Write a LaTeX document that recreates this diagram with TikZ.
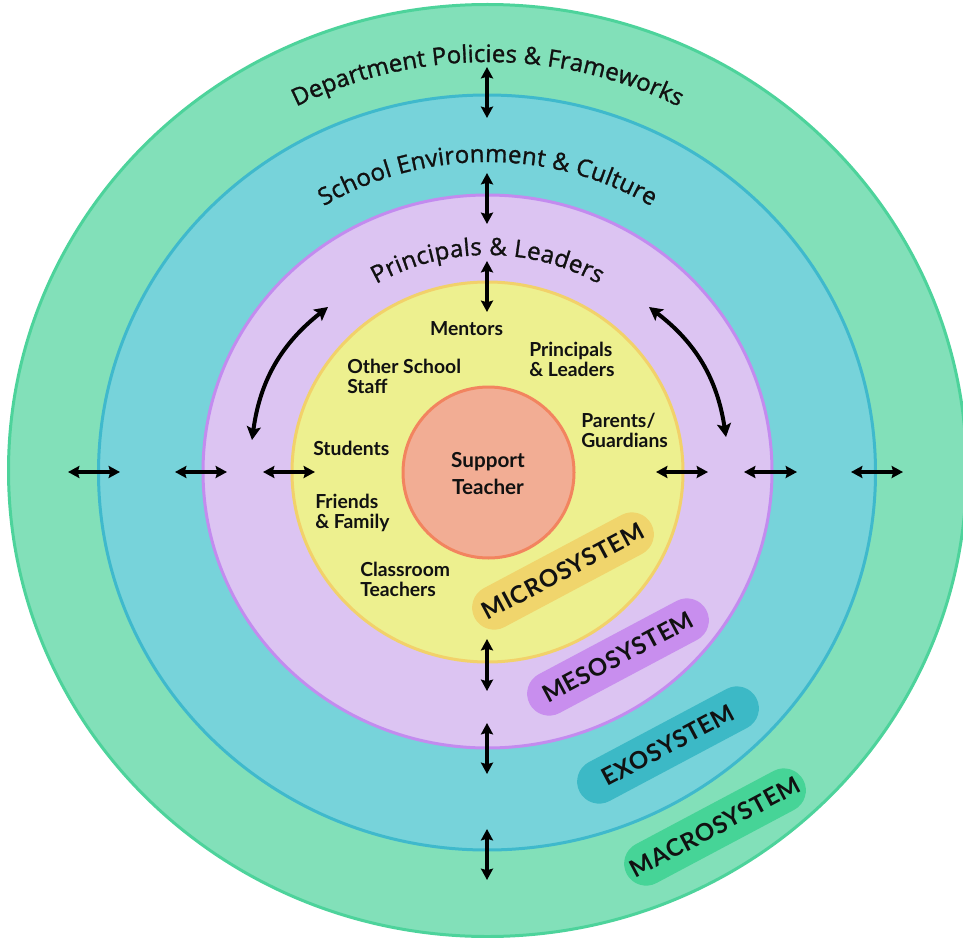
\documentclass[tikz,border=0pt]{standalone}
\usepackage{fontspec}
\setmainfont{Lato}
\newfontfamily\opensans[FakeBold=1.2]{Open Sans}
\usetikzlibrary{arrows.meta,decorations.text}
\definecolor{macF}{HTML}{82E0B9}\definecolor{macD}{HTML}{4DD39B}
\definecolor{exoF}{HTML}{77D3DA}\definecolor{exoD}{HTML}{3FB9CC}
\definecolor{mesF}{HTML}{DCC4F2}\definecolor{mesD}{HTML}{C38BEF}
\definecolor{micF}{HTML}{EDF08F}\definecolor{micD}{HTML}{F2D16A}
\definecolor{tchF}{HTML}{F2AD94}\definecolor{tchD}{HTML}{F2845F}
\definecolor{micP}{HTML}{F0D56C}\definecolor{mesP}{HTML}{C88EEE}
\definecolor{exoP}{HTML}{3CB9C6}\definecolor{macP}{HTML}{46D497}
\definecolor{ink}{HTML}{111111}
\newcommand{\curvefont}{\opensans\fontsize{18}{18}\selectfont\color{ink}}
\begin{document}
\begin{tikzpicture}[x=0.75pt,y=0.75pt,
  ring/.style={line width=2.25pt},
  biarrow/.style={line width=2.3pt,{Stealth[length=8.5pt,width=9pt,inset=1.2pt]}-{Stealth[length=8.5pt,width=9pt,inset=1.2pt]}},
  curvearrow/.style={line width=3pt,{Stealth[length=10pt,width=10.5pt,inset=2pt]}-{Stealth[length=10pt,width=10.5pt,inset=2pt]},bend left=22},
  lab/.style={font=\fontsize{14.5}{15}\selectfont\bfseries,align=left,anchor=base west,inner sep=0pt,text=ink},
  pill/.style={rounded corners=16.5pt,minimum width=150pt,minimum height=33pt,inner sep=0pt,rotate=28,text=ink,
    font=\fontsize{18}{18}\selectfont\bfseries\addfontfeature{LetterSpace=3}},
  curvetext/.style={decorate,decoration={text along path,text align={fit to path},text={#1}}}
  ]
\useasboundingbox (0,-938) rectangle (963,0);
\clip (0,-938) rectangle (963,0);
% rings
\draw[ring,draw=macD,fill=macF] (487.5,-470.5) ellipse [x radius=479,y radius=466];
\draw[ring,draw=exoD,fill=exoF] (487,-472.5) ellipse [x radius=388.5,y radius=377.5];
\draw[ring,draw=mesD,fill=mesF] (487.5,-471.5) ellipse [x radius=284.5,y radius=276.5];
\draw[ring,draw=micD,fill=micF] (487.5,-472) ellipse [x radius=195.5,y radius=190];
\draw[ring,draw=tchD,fill=tchF] (488.5,-472.5) circle [radius=85.5];
% curved titles
\path[curvetext={|\curvefont|Department Policies {\&} Frameworks}]
  ([shift={(487.5,-471.5)}]117:421 and 409.5) arc[start angle=117,end angle=63,x radius=421,y radius=409.5];
\path[curvetext={|\curvefont|School Environment {\&} Culture}]
  ([shift={(487.5,-471.5)}]121:318 and 309.5) arc[start angle=121,end angle=59,x radius=318,y radius=309.5];
\path[curvetext={|\curvefont|Principals {\&} Leaders}]
  ([shift={(487.5,-471.5)}]120:222.5 and 216.5) arc[start angle=120,end angle=60,x radius=222.5,y radius=216.5];
% arrow end points
\coordinate (v1a) at (487,-67);  \coordinate (v1b) at (487,-118);
\coordinate (v2a) at (487,-173); \coordinate (v2b) at (487,-224);
\coordinate (v3a) at (487,-261); \coordinate (v3b) at (487,-312);
\coordinate (v4a) at (487,-639); \coordinate (v4b) at (487,-691);
\coordinate (v5a) at (487,-723); \coordinate (v5b) at (487,-774);
\coordinate (v6a) at (487,-829); \coordinate (v6b) at (487,-880);
\coordinate (h1a) at (68,-472);  \coordinate (h1b) at (120,-472);
\coordinate (h2a) at (175,-472); \coordinate (h2b) at (227,-472);
\coordinate (h3a) at (263,-472); \coordinate (h3b) at (315,-472);
\coordinate (h4a) at (656,-472); \coordinate (h4b) at (708,-472);
\coordinate (h5a) at (744,-472); \coordinate (h5b) at (797,-472);
\coordinate (h6a) at (851,-472); \coordinate (h6b) at (903,-472);
\coordinate (cla) at (252,-440); \coordinate (clb) at (328,-307);
\coordinate (cra) at (649,-307); \coordinate (crb) at (726,-437);
\foreach \p in {v1,v2,v3,v4,v5,v6,h1,h2,h3,h4,h5,h6}
  \draw[biarrow] (\p a) -- (\p b);
\draw[curvearrow] (cla) to (clb);
\draw[curvearrow] (cra) to (crb);
% inner labels (anchor = baseline of last line)
\node[lab,anchor=base] (mentors) at (466.5,-335) {Mentors};
\node[lab] (staff) at (347,-393) {Other School\\Staff};
\node[lab] (princ) at (529,-376) {Principals\\\& Leaders};
\node[lab] (parents) at (581,-447) {Parents/\\Guardians};
\node[lab] (students) at (313,-455) {Students};
\node[lab] (friends) at (315,-528) {Friends\\\& Family};
\node[lab] (class) at (360,-596) {Classroom\\Teachers};
\node[lab,align=center,anchor=base,font=\fontsize{15.5}{20}\selectfont\bfseries] (teacher) at (488,-494) {Support\\Teacher};
% system pills
\node[pill,fill=micP] (micro) at (563,-571) {MICROSYSTEM};
\node[pill,fill=mesP] (meso) at (618,-657) {MESOSYSTEM};
\node[pill,fill=exoP] (exo) at (668,-745) {EXOSYSTEM};
\node[pill,fill=macP] (macro) at (715,-827) {MACROSYSTEM};
\end{tikzpicture}
\end{document}
